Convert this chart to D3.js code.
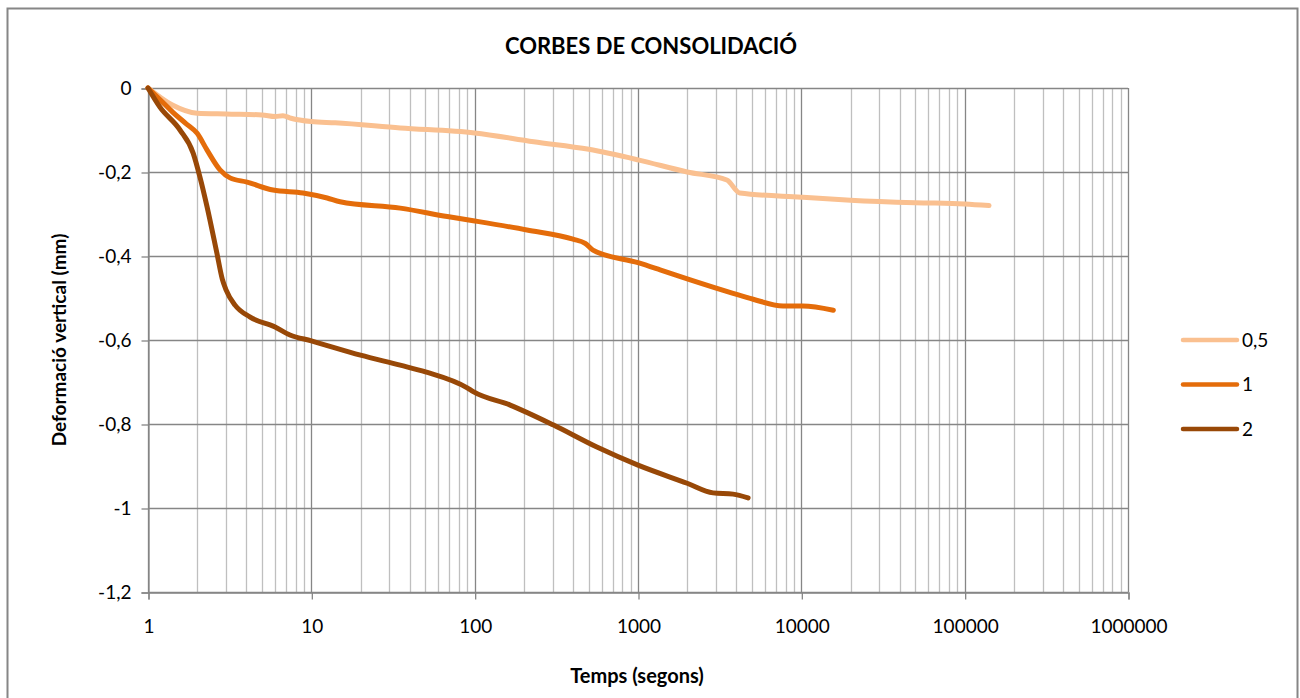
<!DOCTYPE html>
<html>
<head>
<meta charset="utf-8">
<script src="https://cdn.jsdelivr.net/npm/d3@7"></script>
<style>
  html, body { margin: 0; padding: 0; background: #fff; }
  svg { display: block; font-family: Lato, "Open Sans", sans-serif; }
</style>
</head>
<body>
<svg id="chart" width="1300" height="698"></svg>
<script>
// Consolidation curves: vertical deformation (mm) against time (s) for three load steps
const seriesNames = ["0,5", "1", "2"];
const seriesColors = ["#FAC090", "#E46C0A", "#984807"];

const time05 = [1, 1.4, 2.0, 3.0, 5.0, 6.0, 6.7, 7.5, 10, 14, 35, 100, 230, 500, 1000, 2000, 3500, 4200, 10000, 20000, 50000, 100000, 141000];
const defo05 = [0, -0.04, -0.06, -0.062, -0.064, -0.068, -0.066, -0.072, -0.08, -0.083, -0.095, -0.107, -0.128, -0.146, -0.171, -0.2, -0.219, -0.25, -0.26, -0.267, -0.273, -0.276, -0.28];

const time1 = [1, 1.2, 1.42, 1.7, 2.0, 2.3, 2.76, 3.18, 4.04, 5.83, 8.9, 12.5, 15, 35, 68, 98, 209, 400, 475, 530, 1000, 1365, 2090, 3820, 5070, 7730, 10200, 15700];
const defo1 = [0, -0.03, -0.058, -0.084, -0.108, -0.148, -0.195, -0.214, -0.224, -0.243, -0.25, -0.262, -0.271, -0.286, -0.306, -0.316, -0.338, -0.36, -0.37, -0.386, -0.416, -0.433, -0.457, -0.489, -0.503, -0.519, -0.519, -0.529];

const time2 = [1, 1.18, 1.57, 1.89, 2.08, 2.3, 2.64, 2.85, 3.0, 3.41, 4.2, 6.0, 7.4, 10, 20, 35, 50, 90, 98, 165, 302, 560, 1000, 2000, 2880, 3820, 4720];
const defo2 = [0, -0.045, -0.1, -0.155, -0.212, -0.283, -0.393, -0.455, -0.48, -0.517, -0.545, -0.569, -0.588, -0.602, -0.636, -0.66, -0.676, -0.714, -0.723, -0.755, -0.802, -0.855, -0.898, -0.941, -0.964, -0.967, -0.976];

const xTickValues = [1, 10, 100, 1000, 10000, 100000, 1000000];
const yTickValues = [0, -0.2, -0.4, -0.6, -0.8, -1, -1.2];
const yTickLabels = ["0", "-0,2", "-0,4", "-0,6", "-0,8", "-1", "-1,2"];

const chartTitle = "CORBES DE CONSOLIDACIÓ";
const xTitle = "Temps (segons)";
const yTitle = "Deformació vertical (mm)";

const series = [
  { name: seriesNames[0], color: seriesColors[0], t: time05, v: defo05 },
  { name: seriesNames[1], color: seriesColors[1], t: time1, v: defo1 },
  { name: seriesNames[2], color: seriesColors[2], t: time2, v: defo2 }
];

const svg = d3.select("#chart");
const plot = { left: 148, right: 1128, top: 88, bottom: 592 };

const x = d3.scaleLog().domain([1, 1000000]).range([plot.left, plot.right]);
const y = d3.scaleLinear().domain([-1.2, 0]).range([plot.bottom, plot.top]);

// Outer frame
svg.append("rect")
  .attr("x", 7.5).attr("y", 8.5)
  .attr("width", 1290).attr("height", 700)
  .attr("fill", "#fff")
  .attr("stroke", "#868686").attr("stroke-width", 2);

// Minor vertical gridlines (2..9 in every decade)
const minorTicks = [];
for (let d = 1; d < 1000000; d *= 10) {
  for (let k = 2; k <= 9; k++) minorTicks.push(d * k);
}
svg.append("g").selectAll("line").data(minorTicks).join("line")
  .attr("x1", d => Math.round(x(d)) + 0.5).attr("x2", d => Math.round(x(d)) + 0.5)
  .attr("y1", plot.top).attr("y2", plot.bottom)
  .attr("stroke", "#BFBFBF").attr("stroke-width", 1.3);

// Major gridlines
svg.append("g").selectAll("line").data(xTickValues).join("line")
  .attr("x1", d => Math.round(x(d)) + 0.5).attr("x2", d => Math.round(x(d)) + 0.5)
  .attr("y1", plot.top).attr("y2", plot.bottom)
  .attr("stroke", "#868686").attr("stroke-width", 1.3);

svg.append("g").selectAll("line").data(yTickValues).join("line")
  .attr("x1", plot.left).attr("x2", plot.right)
  .attr("y1", d => Math.round(y(d)) + 0.5).attr("y2", d => Math.round(y(d)) + 0.5)
  .attr("stroke", "#868686").attr("stroke-width", 1.3);

// Axes
const yAxis = d3.axisLeft(y).tickValues(yTickValues)
  .tickFormat((d, i) => yTickLabels[i]).tickSize(7).tickPadding(10);
const gy = svg.append("g").attr("transform", `translate(${plot.left + 0.5},0.5)`).call(yAxis);

const xAxis = d3.axisBottom(x).tickValues(xTickValues)
  .tickFormat(d3.format("d")).tickSize(7).tickPadding(20);
const gx = svg.append("g").attr("transform", `translate(0.5,${plot.bottom + 0.5})`).call(xAxis);

[gx, gy].forEach(g => {
  g.select(".domain").attr("stroke", "#868686").attr("stroke-width", 1.3);
  g.selectAll(".tick line").attr("stroke", "#868686").attr("stroke-width", 1.3);
  g.selectAll(".tick text")
    .attr("fill", "#000").attr("font-size", 19)
    .attr("font-family", "Lato, 'Open Sans', sans-serif");
});

// Curves
const line = d3.line()
  .x(d => x(d[0])).y(d => y(d[1]))
  .curve(d3.curveMonotoneX);

svg.append("g").selectAll("path").data(series).join("path")
  .attr("d", s => line(s.t.map((t, i) => [t, s.v[i]])))
  .attr("fill", "none")
  .attr("stroke", s => s.color)
  .attr("stroke-width", 5)
  .attr("stroke-linejoin", "round")
  .attr("stroke-linecap", "round");

// Title and axis titles
svg.append("text")
  .attr("x", 651).attr("y", 54)
  .attr("text-anchor", "middle")
  .attr("font-size", 22).attr("font-weight", "bold")
  .text(chartTitle);

svg.append("text")
  .attr("x", 637).attr("y", 683)
  .attr("text-anchor", "middle")
  .attr("font-size", 20).attr("font-weight", "bold")
  .text(xTitle);

svg.append("text")
  .attr("transform", "translate(66,340) rotate(-90)")
  .attr("text-anchor", "middle")
  .attr("font-size", 19).attr("font-weight", "bold")
  .text(yTitle);

// Legend
const legend = svg.append("g").selectAll("g").data(series).join("g")
  .attr("transform", (d, i) => `translate(1183,${340 + i * 44.5})`);
legend.append("line")
  .attr("x1", 0).attr("x2", 54)
  .attr("stroke", d => d.color).attr("stroke-width", 4.5)
  .attr("stroke-linecap", "round");
legend.append("text")
  .attr("x", 59).attr("dy", "0.35em")
  .attr("font-size", 19)
  .text(d => d.name);
</script>
</body>
</html>
